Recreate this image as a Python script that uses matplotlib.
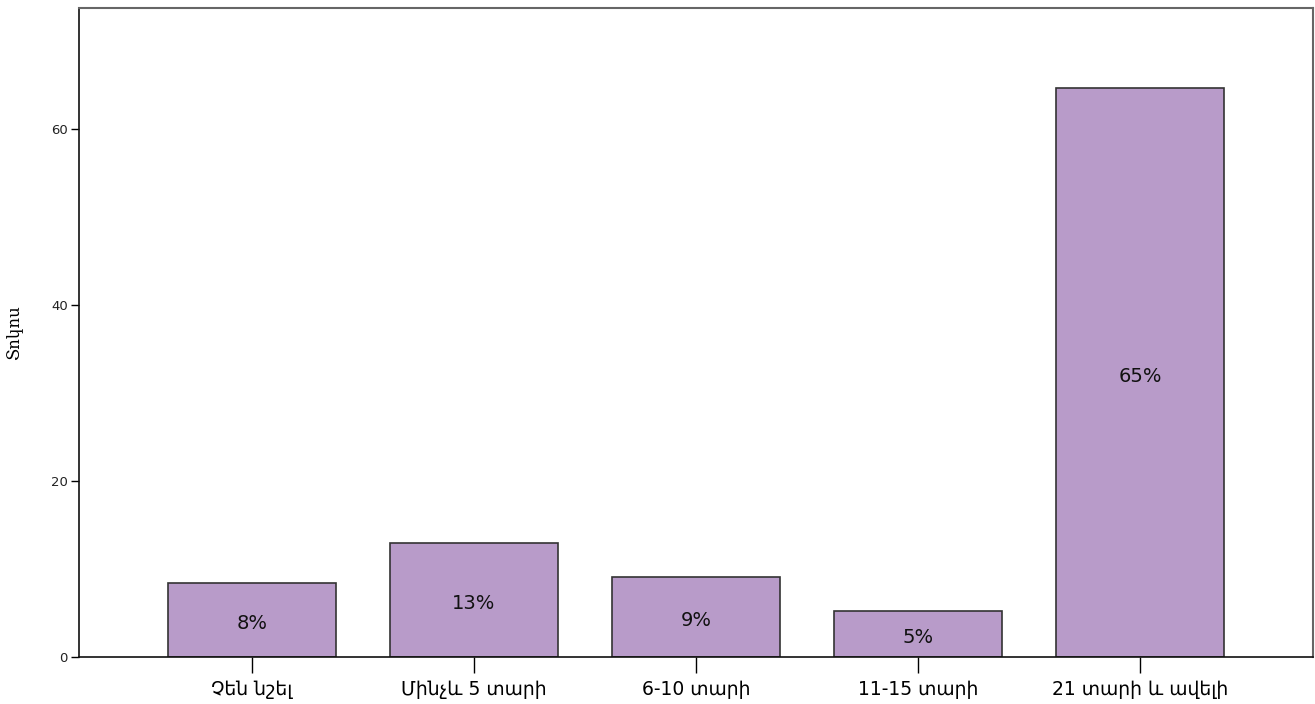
import matplotlib
matplotlib.use("Agg")
import matplotlib.pyplot as plt

categories = ["Չեն նշել", "Մինչև 5 տարի", "6-10 տարի", "11-15 տարի", "21 տարի և ավելի"]
values = [8.4, 12.9, 9.1, 5.2, 64.6]
labels = ["8%", "13%", "9%", "5%", "65%"]
yticks = [0, 20, 40, 60]

plt.rcParams['font.family'] = ['DejaVu Sans']

fig = plt.figure(figsize=(13.15, 7.04), dpi=100)
ax = fig.add_axes([79/1315, 1 - 657/704, (1313-79)/1315, (657-8)/704])

x = list(range(len(categories)))
ax.bar(x, values, width=0.757, color="#b89bc9", edgecolor="#333333", linewidth=1.2, zorder=2)
for xi, v, lab in zip(x, values, labels):
    ax.text(xi, v/2 - 0.4, lab, ha="center", va="center", fontsize=14, color="#111111")

ax.set_xlim(-0.78, 4.78)
ax.set_ylim(0, 73.7)
ax.set_xticks(x)
ax.set_xticklabels(categories, fontsize=13.5)
ax.set_yticks(yticks)
ax.set_yticklabels([str(t) for t in yticks], fontsize=9.5, color="#222222")
ax.tick_params(axis="x", length=11.5, width=1, pad=5)
ax.tick_params(axis="y", length=6, width=1, pad=2)
ax.set_ylabel("Տոկոս", fontsize=12, family=["DejaVu Serif", "DejaVu Sans"], labelpad=20)

for s in ["left", "bottom"]:
    ax.spines[s].set_color("#111111")
    ax.spines[s].set_linewidth(1.2)
for s in ["top", "right"]:
    ax.spines[s].set_color("#666666")
    ax.spines[s].set_linewidth(1.5)

fig.savefig("out.png", dpi=100, facecolor="white")
